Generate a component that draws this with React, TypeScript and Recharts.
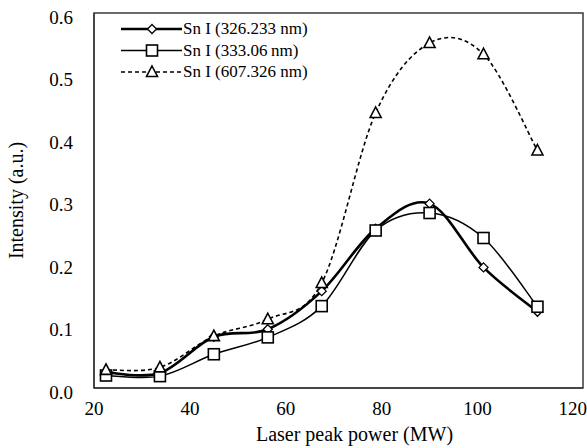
import { LineChart, Line, XAxis, YAxis, Legend, ReferenceArea } from "recharts";

const powerMW = [22.5, 33.75, 45, 56.25, 67.5, 78.75, 90, 101.25, 112.5];
const sn326 = [0.025, 0.024, 0.082, 0.094, 0.155, 0.255, 0.295, 0.193, 0.122];
const sn333 = [0.02, 0.019, 0.054, 0.081, 0.131, 0.252, 0.28, 0.24, 0.13];
const sn607 = [0.029, 0.033, 0.083, 0.11, 0.168, 0.44, 0.552, 0.534, 0.38];
const xTicks = [20, 40, 60, 80, 100, 120];
const yTicks = [0, 0.1, 0.2, 0.3, 0.4, 0.5, 0.6];

const data = powerMW.map((x, i) => ({ x, a: sn326[i], b: sn333[i], c: sn607[i] }));

const FONT = "'Times New Roman', 'Liberation Serif', Tinos, serif";
const FRAME = "#3a3a3a";

// excel style smoothing: bezier through the points, tangents from neighbours / 6
const excelSmooth = (ctx: any) => {
  let pts: number[][] = [];
  return {
    areaStart() {},
    areaEnd() {},
    lineStart() { pts = []; },
    point(x: number, y: number) { pts.push([+x, +y]); },
    lineEnd() {
      if (!pts.length) return;
      ctx.moveTo(pts[0][0], pts[0][1]);
      for (let i = 0; i < pts.length - 1; i++) {
        const p0 = pts[i - 1] || pts[i];
        const p1 = pts[i];
        const p2 = pts[i + 1];
        const p3 = pts[i + 2] || p2;
        ctx.bezierCurveTo(
          p1[0] + (p2[0] - p0[0]) / 6, p1[1] + (p2[1] - p0[1]) / 6,
          p2[0] - (p3[0] - p1[0]) / 6, p2[1] - (p3[1] - p1[1]) / 6,
          p2[0], p2[1]
        );
      }
    },
  };
};

function marker(kind: string, cx: number, cy: number, key?: any) {
  if (kind === "diamond")
    return <path key={key} d={`M${cx},${cy - 4.5}L${cx + 4.5},${cy}L${cx},${cy + 4.5}L${cx - 4.5},${cy}Z`} fill="#fff" stroke="#000" strokeWidth={1.3} />;
  if (kind === "square")
    return <rect key={key} x={cx - 5.5} y={cy - 5.5} width={11} height={11} fill="#fff" stroke="#000" strokeWidth={1.6} />;
  return <path key={key} d={`M${cx},${cy - 6}L${cx + 5.5},${cy + 4.5}L${cx - 5.5},${cy + 4.5}Z`} fill="#fff" stroke="#000" strokeWidth={1.6} />;
}

const series = [
  { key: "a", name: "Sn I (326.233 nm)", kind: "diamond", width: 2.6, dash: undefined },
  { key: "b", name: "Sn I (333.06\u2009nm)", kind: "square", width: 1.5, dash: undefined },
  { key: "c", name: "Sn I (607.326 nm)", kind: "triangle", width: 1.6, dash: "4 3" },
];

function LegendBox() {
  return (
    <svg width={220} height={76} style={{ fontFamily: FONT }}>
      {series.map((s, i) => {
        const y = 14 + i * 21.5;
        return (
          <g key={s.key}>
            <line x1={0} x2={61} y1={y} y2={y} stroke="#000" strokeWidth={s.width} strokeDasharray={s.dash} />
            {marker(s.kind, 31, y)}
            <text x={62} y={y + 5} fontSize={17} fontFamily={FONT} fill="#000">{s.name}</text>
          </g>
        );
      })}
    </svg>
  );
}

const tickStyle = { fontSize: 19, fontFamily: FONT, fill: "#000" };
const xTitleStyle = { fontSize: 20, fontFamily: FONT, fill: "#000", textAnchor: "middle" as const };
const yTitleStyle = { fontSize: 20, fontFamily: FONT, fill: "#000", textAnchor: "middle" as const };

export default function App() {
  return (
    <div style={{ position: "absolute", left: 0, top: 0, width: 587, height: 448, background: "#fff", fontFamily: FONT }}>
      <LineChart width={587} height={448} data={data} margin={{ top: 13, right: 4, left: 34, bottom: 0 }}
        style={{ fontFamily: FONT }}>
        <XAxis dataKey="x" type="number" domain={[20, 122]} ticks={xTicks} allowDataOverflow
          height={60} tickLine={false} tickMargin={8}
          axisLine={{ stroke: FRAME, strokeWidth: 1.5 }}
          tick={tickStyle}
          label={{ value: "Laser peak power (MW)", position: "insideBottom", offset: 7, dx: 16, fontFamily: FONT, style: xTitleStyle }} />
        <YAxis type="number" domain={[0, 0.6]} ticks={yTicks} width={60} tickLine={false} tickMargin={15}
          tickFormatter={(v: number) => v.toFixed(1)}
          axisLine={{ stroke: FRAME, strokeWidth: 1.5 }}
          tick={{ ...tickStyle, dy: 4 }}
          label={{ value: "Intensity (a.u.)", angle: -90, position: "insideLeft", offset: -18, dy: 0, fontFamily: FONT, style: yTitleStyle }} />
        <ReferenceArea x1={20} x2={122} y1={0} y2={0.6} fill="none" stroke={FRAME} strokeWidth={1.5} ifOverflow="visible" />
        <Legend layout="vertical" align="center" verticalAlign="middle" content={() => <LegendBox />}
          wrapperStyle={{ left: 121, top: 15, width: 220, height: 76 }} />
        {series.map((s) => (
          <Line key={s.key} dataKey={s.key} name={s.name} type={excelSmooth as any} stroke="#000"
            strokeWidth={s.width} strokeDasharray={s.dash} isAnimationActive={false}
            dot={(p: any) => marker(s.kind, p.cx, p.cy, p.index)} activeDot={false} />
        ))}
      </LineChart>
    </div>
  );
}
